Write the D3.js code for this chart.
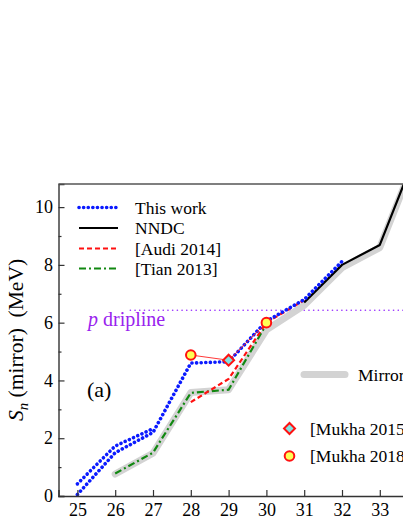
<!DOCTYPE html>
<html><head><meta charset="utf-8">
<script src="https://d3js.org/d3.v7.min.js"></script>
<style>body{margin:0;background:#fff}svg{display:block}text{font-family:"Liberation Serif","Times New Roman",serif}</style>
</head><body>
<script>
// ---- data ----
const thisWorkA = [[25,0.42],[26,1.73],[27,2.33]];
const thisWorkB = [[25,0.05],[26,1.5],[27,2.2],[28,4.6],[29,4.65],[30,6.05],[31,6.8],[32,8.12]];
const nndc = [[31,6.7],[32,8.0],[33,8.69],[34,12.0]];
const audi2014 = [[28,3.25],[29,4.05],[30,6.0],[31,6.78]];
const tian2013 = [[26,0.78],[27,1.5],[28,3.57],[29,3.68],[30,5.95]];
const mirror = [[26,0.76],[27,1.48],[28,3.58],[29,3.68],[30,5.75],[31,6.6],[32,7.9],[33,8.6],[34,11.9]];
const mukha2015 = [[29,4.7]];
const mukha2018 = [[28,4.88],[30,6.0]];
const mukhaLink = [[28,4.88],[29,4.7],[30,6.0]];
const dripline = 6.43;
const xTicks = [25,26,27,28,29,30,31,32,33];
const yTicks = [0,2,4,6,8,10];
const yMinor = [1,3,5,7,9];
const legend1 = ["This work","NNDC","[Audi 2014]","[Tian 2013]"];

const FF='"Liberation Serif","Times New Roman",serif';
const W=403,H=521;
const svg=d3.select("body").append("svg").attr("width",W).attr("height",H).attr("font-family",FF);
const x=d3.scaleLinear().domain([24.5,34.5]).range([58.5,436.5]);
const y=d3.scaleLinear().domain([0,10.8]).range([496,184]);

svg.append("defs").append("clipPath").attr("id","clip").append("rect")
  .attr("x",58.5).attr("y",184).attr("width",378).attr("height",312);
const plot=svg.append("g").attr("clip-path","url(#clip)");
const line=d3.line().x(d=>x(d[0])).y(d=>y(d[1]));

// dripline
plot.append("line").attr("x1",x(26.4)).attr("x2",x(34.5)).attr("y1",y(dripline)).attr("y2",y(dripline))
  .attr("stroke","#9933ff").attr("stroke-width",1.6).attr("stroke-dasharray","0.1,4.6").attr("stroke-linecap","round");

// mirror gray
plot.append("path").attr("d",line(mirror)).attr("fill","none").attr("stroke","#d3d3d3")
  .attr("stroke-width",7).attr("stroke-linejoin","round").attr("stroke-linecap","round");
// tian
plot.append("path").attr("d",line(tian2013)).attr("fill","none").attr("stroke","#118811")
  .attr("stroke-width",2.2).attr("stroke-dasharray","7,3,2,3");
// audi
plot.append("path").attr("d",line(audi2014)).attr("fill","none").attr("stroke","#ff1111")
  .attr("stroke-width",2.2).attr("stroke-dasharray","5,3");
// nndc
plot.append("path").attr("d",line(nndc)).attr("fill","none").attr("stroke","#000")
  .attr("stroke-width",2.2).attr("stroke-linejoin","round");
// this work
[thisWorkA,thisWorkB].forEach(s=>{
  plot.append("path").attr("d",line(s)).attr("fill","none").attr("stroke","#0a1aff")
    .attr("stroke-width",3.6).attr("stroke-dasharray","0.1,4.5").attr("stroke-linecap","round");
});
// mukha link
plot.append("path").attr("d",line(mukhaLink)).attr("fill","none").attr("stroke","#ff2222").attr("stroke-width",0.9);
// markers
const diamond=d3.symbol().type(d3.symbolSquare).size(60);
plot.selectAll(".dm").data(mukha2015).join("path")
  .attr("d",diamond).attr("transform",d=>`translate(${x(d[0])},${y(d[1])}) rotate(45)`)
  .attr("fill","#7fe3e3").attr("stroke","#ff1111").attr("stroke-width",2);
plot.selectAll(".cm").data(mukha2018).join("circle")
  .attr("cx",d=>x(d[0])).attr("cy",d=>y(d[1])).attr("r",4.8)
  .attr("fill","#ffff55").attr("stroke","#ff1111").attr("stroke-width",2);

// axes
const axCol="#333";
const gx=svg.append("g").attr("transform","translate(0,496)")
  .call(d3.axisBottom(x).tickValues(xTicks).tickSize(-6).tickPadding(7.5).tickFormat(d3.format("d")));
const gy=svg.append("g").attr("transform","translate(58.5,0)")
  .call(d3.axisLeft(y).tickValues(yTicks).tickSize(-6).tickPadding(5.5).tickFormat(d3.format("d")));
svg.append("g").attr("transform","translate(58.5,0)")
  .call(d3.axisLeft(y).tickValues(yMinor).tickSize(-3).tickFormat(""))
  .call(g=>g.select(".domain").remove());
svg.selectAll("g").filter(function(){return this.hasAttribute("font-family");}).attr("font-family",FF);
[gx,gy].forEach(g=>{
  g.select(".domain").attr("stroke",axCol).attr("stroke-width",1.4);
  g.selectAll(".tick text").attr("fill","#000").attr("font-size","18px").attr("font-family",FF);
});
svg.selectAll(".tick line").attr("stroke",axCol).attr("stroke-width",1.2);
svg.append("line").attr("x1",58.5).attr("x2",W).attr("y1",184).attr("y2",184)
  .attr("stroke","#555").attr("stroke-width",1.4);

// y label
const yl=svg.append("text").attr("transform","translate(23,340) rotate(-90)")
  .attr("text-anchor","middle").attr("font-size","21.5px").attr("fill","#000");
yl.append("tspan").attr("font-style","italic").text("S");
yl.append("tspan").attr("font-style","italic").attr("dy",5).attr("font-size","15px").text("n");
yl.append("tspan").attr("dy",-5).text("\u00a0(mirror)\u00a0\u00a0(MeV)");

// (a)
svg.append("text").attr("x",87).attr("y",397).attr("font-size","22px").text("(a)");
// p dripline
const pd=svg.append("text").attr("x",88).attr("y",326).attr("fill","#9922ee").attr("font-size","20px");
pd.append("tspan").attr("font-style","italic").text("p");
pd.append("tspan").text("\u00a0dripline");

// legend 1
const lgY=[207.5,228,248.5,268.5];
const styles=[
  {c:"#0a1aff",w:3.6,da:"0.1,4.5",cap:"round"},
  {c:"#000",w:2.2,da:null,cap:"butt"},
  {c:"#ff1111",w:2.2,da:"5,3",cap:"butt"},
  {c:"#118811",w:2.2,da:"7,3,2,3",cap:"butt"}];
legend1.forEach((t,i)=>{
  const s=styles[i];
  svg.append("line").attr("x1",79).attr("x2",118).attr("y1",lgY[i]).attr("y2",lgY[i])
    .attr("stroke",s.c).attr("stroke-width",s.w).attr("stroke-dasharray",s.da).attr("stroke-linecap",s.cap);
  svg.append("text").attr("x",135).attr("y",lgY[i]+6).attr("font-size","17.5px").text(t);
});

// legend 2
svg.append("line").attr("x1",304).attr("x2",345).attr("y1",374.5).attr("y2",374.5)
  .attr("stroke","#d3d3d3").attr("stroke-width",7).attr("stroke-linecap","round");
svg.append("text").attr("x",358).attr("y",381).attr("font-size","17.5px").text("Mirror");
svg.append("path").attr("d",diamond).attr("transform","translate(289.5,428.5) rotate(45)")
  .attr("fill","#7fe3e3").attr("stroke","#ff1111").attr("stroke-width",2);
svg.append("text").attr("x",310).attr("y",434.5).attr("font-size","17.5px").text("[Mukha 2015]");
svg.append("circle").attr("cx",289.5).attr("cy",456).attr("r",4.8)
  .attr("fill","#ffff55").attr("stroke","#ff1111").attr("stroke-width",2);
svg.append("text").attr("x",310).attr("y",462).attr("font-size","17.5px").text("[Mukha 2018]");
</script>
</body></html>
